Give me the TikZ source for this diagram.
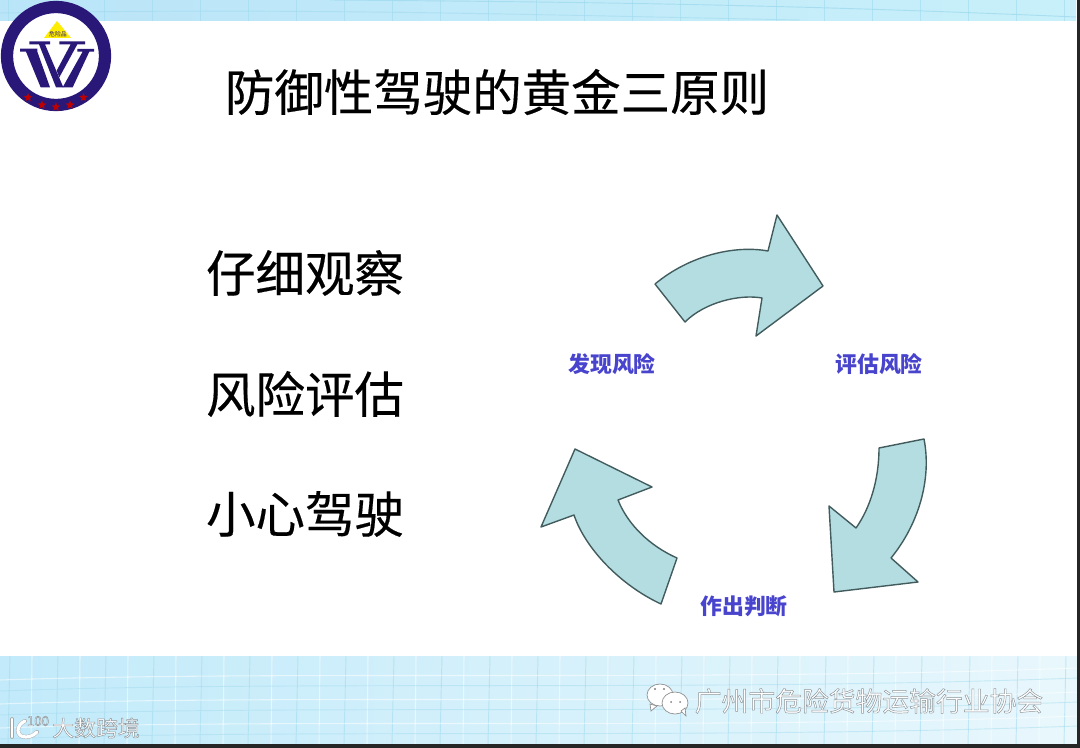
\documentclass[tikz,border=0pt]{standalone}
\usepackage{fontspec}
\usetikzlibrary{shapes.geometric}
\setmainfont{Noto Sans CJK SC}
\newfontfamily\grueso[FakeBold=0.35]{Noto Sans CJK SC}
\definecolor{marino}{RGB}{42,24,120}
\definecolor{flecha}{RGB}{180,221,226}
\definecolor{borde}{RGB}{66,92,94}
\definecolor{azultexto}{RGB}{72,68,205}
\definecolor{rejilla}{RGB}{160,218,238}
\definecolor{bandaa}{RGB}{186,228,248}
\definecolor{bandab}{RGB}{200,240,250}
\definecolor{bandac}{RGB}{194,234,250}
\definecolor{bandad}{RGB}{232,247,252}
\newcommand{\contorno}[1]{\special{pdf:code q 2 Tr 0.35 w 0.55 0.58 0.6 RG 1 1 1 rg}#1\special{pdf:code Q}}

\begin{document}
\begin{tikzpicture}[x=0.75pt, y=-0.75pt,
  titulo/.style={font=\grueso\fontsize{37.1}{40}\selectfont, text=black, inner sep=0pt},
  etiqueta/.style={font=\bfseries\fontsize{16.4}{18}\selectfont, text=azultexto, inner sep=0pt},
  flechas/.style={draw=borde, fill=flecha, line width=1.05pt, line join=round},
  estrella/.style={star, star points=5, star point ratio=2.4, fill=red!75!black,
    draw=none, minimum size=7pt, inner sep=0pt},
  marca/.style={fill=marino, draw=none},
  fino/.style={draw=rejilla, line width=0.7pt},
  claro/.style={draw=white, opacity=0.55, line width=0.8pt},
  burbuja/.style={draw=black!45, fill=white, line width=0.5pt}
]
\useasboundingbox (0,0) rectangle (1080,748);
\fill[white] (0,0) rectangle (1080,748);
% Bandas
\shade[left color=bandaa, right color=bandab] (0,0) rectangle (1076,21);
\shade[left color=bandac, right color=bandad] (0,656) rectangle (1078,744);
\foreach \x in {8,56,...,1064} {
  \draw[fino, opacity=0.6] (\x,0) -- (\x,21);
  \draw[fino, opacity=0.55] (\x+2,656) -- (\x,744);
  \draw[claro] (\x+24,656) -- (\x+23,744);
}
\draw[fino, opacity=0.8] (330,0) .. controls (600,2) and (800,5) .. (1076,17);
\draw[fino, opacity=0.6] (0,13) .. controls (300,8) and (500,14) .. (800,20);
\foreach \y in {676,700,724} {
  \draw[claro] (0,\y+4) .. controls (300,\y-6) and (700,\y+6) .. (1078,\y-8);
  \draw[fino, opacity=0.45] (0,\y+15) .. controls (300,\y+4) and (700,\y+16) .. (1078,\y+2);
}
% Bordes
\fill[black!85] (0,744) rectangle (1080,748);
\fill[black!85] (1077,0) rectangle (1080,748);
% Logo
\draw[marino, fill=white, line width=9.2pt] (56,56) circle (49);
\fill[yellow!95!orange] (57,21) -- (44,38) -- (71,38) -- cycle;
\node[font=\fontsize{4.4}{5}\selectfont, text=marino, inner sep=0pt] (logotexto) at (58,34) {危险品};
\begin{scope}[scale=1/3]
  \fill[marca] (60,146) -- (112,146) -- (112,155) -- (150,262) -- (122,262) -- (78,155) -- (60,155) -- cycle;
  \fill[marca] (88,124) -- (150,124) -- (150,133) -- (135,133) -- (190,262) -- (168,262) -- (117,133) -- (88,133) -- cycle;
  \fill[marca] (178,124) -- (255,124) -- (255,133) -- (232,133) -- (178,232) -- (170,212) -- (212,133) -- (178,133) -- cycle;
  \fill[marca] (232,147) -- (282,147) -- (282,155) -- (268,155) -- (218,262) -- (188,262) -- (248,155) -- (232,155) -- cycle;
\end{scope}
\node[estrella] (e1) at (28,97.5) {};
\node[estrella] (e2) at (42,105) {};
\node[estrella] (e3) at (56,107) {};
\node[estrella] (e4) at (70,105) {};
\node[estrella] (e5) at (83.5,97.5) {};
% Textos
\node[titulo] (tt) at (497,92) {防御性驾驶的黄金三原则};
\node[titulo] (p1) at (305,273) {仔细观察};
\node[titulo] (p2) at (305,394) {风险评估};
\node[titulo] (p3) at (305,514) {小心驾驶};
% Ciclo
\draw[flechas] (655,284) .. controls (690,255) and (735,245) .. (768,251)
  -- (777,215) -- (823,286) -- (756,336) -- (762,298)
  .. controls (740,294) and (705,302) .. (685,322) -- cycle;
\draw[flechas] (924,439) .. controls (932,480) and (918,525) .. (891,558)
  -- (918,582) -- (834,592) -- (829,506) -- (856,528)
  .. controls (870,508) and (879,480) .. (879,448) -- cycle;
\draw[flechas] (677,558) .. controls (650,546) and (628,525) .. (618,500)
  -- (652,487) -- (575,449) -- (541,527) -- (574,515)
  .. controls (585,548) and (620,585) .. (661,604) -- cycle;
\node[etiqueta] (e_a) at (612,364) {发现风险};
\node[etiqueta] (e_b) at (879,364) {评估风险};
\node[etiqueta] (e_c) at (744,606) {作出判断};
% Pie
\draw[burbuja] (660,695) ellipse (13 and 11);
\draw[burbuja] (650,704) -- (651,711) -- (657,706) -- cycle;
\draw[burbuja] (675,703) ellipse (13 and 11);
\draw[burbuja] (681,711) -- (686,716) -- (685,708) -- cycle;
\fill[black!50] (655,689) circle (1.2) (664,689) circle (1.2) (671,702) circle (1) (680,702) circle (1);
\node[font=\fontsize{20.1}{22}\selectfont, inner sep=0pt] (pie) at (869,701) {\contorno{广州市危险货物运输行业协会}};
\node[font=\fontsize{16.4}{18}\selectfont, inner sep=0pt] (marcaagua) at (96,728) {\contorno{大数跨境}};
\node[font=\fontsize{10}{11}\selectfont, inner sep=0pt] (cien) at (38,721) {\contorno{100}};
\draw[draw=black!35, double=white, double distance=2.2pt, line width=0.3pt, line cap=round] (12,719) -- (12,737);
\draw[draw=black!35, double=white, double distance=2.4pt, line width=0.3pt, line cap=round] (25,721) .. controls (16,725) and (15,737) .. (26,737) .. controls (30,737) and (34,735) .. (37,732);
\end{tikzpicture}
\end{document}
